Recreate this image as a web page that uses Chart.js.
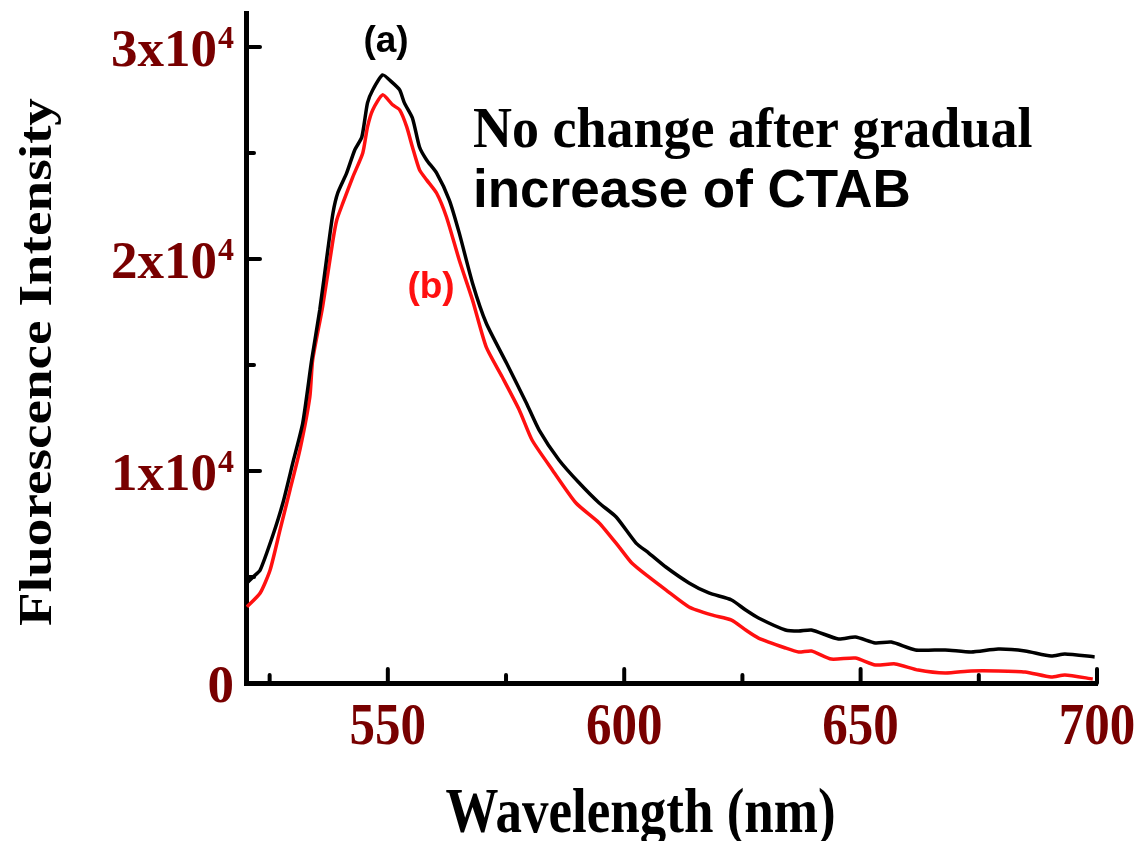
<!DOCTYPE html>
<html>
<head>
<meta charset="utf-8">
<script src="https://cdn.jsdelivr.net/npm/chart.js@4/dist/chart.umd.min.js"></script>
<style>
  html, body { margin: 0; padding: 0; background: #fff; }
  #wrap { width: 1140px; height: 841px; position: relative; }
</style>
</head>
<body>
<div id="wrap"><canvas id="myChart"></canvas></div>
<script>
// curve (a): black, before CTAB
const wavelengthsA = [520.2, 521.5, 523.0, 525.7, 527.8, 529.9, 532.0, 533.9, 535.6, 537.3, 538.4, 539.4,
  541.3, 543.0, 544.5, 545.7, 546.8, 548.9, 550.8, 552.5, 553.5, 555.2, 556.7, 558.2, 560.3, 563.0,
  565.1, 567.9, 570.8, 575.1, 579.3, 582.0, 586.2, 590.5, 594.7, 598.3, 602.5, 605.2, 608.8, 613.7,
  617.9, 622.7, 625.7, 628.4, 634.1, 636.9, 639.6, 645.3, 648.9, 653.1, 656.5, 661.6, 667.9, 673.4,
  679.1, 684.8, 690.3, 693.2, 699.5];
const intensityA = [4720, 5000, 5330, 6980, 8490, 10380, 12260, 15240, 17590, 20420, 22170, 23110,
  24060, 25140, 25750, 27360, 27970, 28680, 28350, 27970, 27360, 26650, 25280, 24670, 24060, 22780,
  21230, 18870, 16980, 15090, 13210, 11930, 10520, 9430, 8490, 7830, 6600, 6130, 5470, 4720,
  4245, 3915, 3440, 3066, 2500, 2450, 2500, 2075, 2170, 1890, 1930, 1560, 1560, 1460,
  1600, 1510, 1270, 1370, 1230];

// curve (b): red, after gradual increase of CTAB
const wavelengthsB = [520.2, 523.0, 525.1, 527.2, 529.3, 531.4, 533.5, 534.1, 536.2, 538.4, 539.2, 540.5,
  542.6, 544.7, 545.7, 546.8, 548.9, 551.0, 552.5, 554.0, 555.2, 556.7, 558.2, 560.3, 562.4, 565.1,
  567.9, 570.8, 574.2, 577.8, 580.5, 584.8, 589.8, 594.7, 598.9, 601.6, 605.2, 608.8, 613.7, 618.5,
  622.7, 625.7, 628.4, 634.1, 636.9, 639.6, 643.8, 648.9, 653.1, 657.3, 662.2, 667.9, 673.4, 679.1,
  684.8, 690.3, 693.2, 699.1];
const intensityB = [3590, 4245, 5330, 7220, 9100, 10990, 13490, 15240, 17740, 20900, 21840, 22640,
  23870, 25000, 26230, 27030, 27740, 27270, 27030, 26230, 25280, 24200, 23730, 23110, 21980, 19950,
  18070, 15850, 14430, 12880, 11460, 10050, 8490, 7550, 6420, 5660, 5000, 4390, 3585, 3210,
  2970, 2500, 2120, 1650, 1460, 1510, 1130, 1180, 850, 900, 610, 470, 570, 570,
  520, 280, 380, 190];

const xMajor = [550, 600, 650, 700];
const xMinor = [525, 575, 625, 675];
const yMajor = [0, 10000, 20000, 30000];
const yMinor = [5000, 15000, 25000];
const yTickLabels = ['0', '1x10', '2x10', '3x10'];
const yTickPowers = ['', '4', '4', '4'];

const labelRed = '#780000';
const serifBold = '"Liberation Serif", "Times New Roman", serif';
const sansBold = '"Liberation Sans", Arial, sans-serif';

function toPoints(xs, ys) {
  return xs.map((x, i) => ({ x: x, y: ys[i] }));
}

function stretchText(ctx, str, x, y, font, color, align, sy) {
  ctx.save();
  ctx.translate(x, y);
  ctx.scale(1, sy);
  ctx.font = font;
  ctx.fillStyle = color;
  ctx.textAlign = align;
  ctx.textBaseline = 'alphabetic';
  ctx.fillText(str, 0, 0);
  ctx.restore();
}

// inward tick marks, tick labels, axis titles and annotations
const decorations = {
  id: 'decorations',
  afterDraw(chart) {
    const ctx = chart.ctx;
    const xs = chart.scales.x;
    const ys = chart.scales.y;
    const area = chart.chartArea;

    ctx.save();
    ctx.strokeStyle = '#000';
    ctx.lineWidth = 4;
    ctx.lineCap = 'round';
    xMajor.concat(xMinor).forEach(v => {
      const len = xMajor.includes(v) ? 14 : 8;
      const px = xs.getPixelForValue(v);
      ctx.beginPath();
      ctx.moveTo(px, area.bottom);
      ctx.lineTo(px, area.bottom - len);
      ctx.stroke();
    });
    yMajor.concat(yMinor).forEach(v => {
      const len = yMajor.includes(v) ? 14 : 8;
      const py = ys.getPixelForValue(v);
      ctx.beginPath();
      ctx.moveTo(area.left, py);
      ctx.lineTo(area.left + len, py);
      ctx.stroke();
    });
    ctx.restore();

    // x tick labels
    xMajor.forEach(v => {
      stretchText(ctx, String(v), xs.getPixelForValue(v), 744, 'bold 51px ' + serifBold, labelRed, 'center', 1.16);
    });

    // y tick labels with superscript power
    const rightEdge = area.left - 12;
    yMajor.forEach((v, i) => {
      const py = ys.getPixelForValue(v);
      ctx.save();
      ctx.font = 'bold 32px ' + serifBold;
      const supW = yTickPowers[i] ? ctx.measureText(yTickPowers[i]).width : 0;
      ctx.restore();
      stretchText(ctx, yTickLabels[i], rightEdge - supW - (supW ? 1 : 0), py + 19, 'bold 53px ' + serifBold, labelRed, 'right', 1);
      if (yTickPowers[i]) {
        stretchText(ctx, yTickPowers[i], rightEdge, py + 1, 'bold 32px ' + serifBold, labelRed, 'right', 1);
      }
    });

    // axis titles
    stretchText(ctx, 'Wavelength (nm)', (area.left + area.right) / 2 - 31, 832, 'bold 53px ' + serifBold, '#000', 'center', 1.2);
    ctx.save();
    ctx.translate(51, 362);
    ctx.rotate(-Math.PI / 2);
    ctx.scale(1.2, 1);
    ctx.font = 'bold 46px ' + serifBold;
    ctx.fillStyle = '#000';
    ctx.textAlign = 'center';
    ctx.textBaseline = 'alphabetic';
    ctx.fillText('Fluorescence Intensity', 0, 0);
    ctx.restore();

    // annotations
    stretchText(ctx, '(a)', 386, 52, 'bold 37px ' + sansBold, '#000', 'center', 1);
    stretchText(ctx, '(b)', 431, 298, 'bold 37px ' + sansBold, '#ff1010', 'center', 1);
    stretchText(ctx, 'No change after gradual', 473, 147, 'bold 54px ' + serifBold, '#000', 'left', 1.05);
    stretchText(ctx, 'increase of CTAB', 473, 207, 'bold 53px ' + sansBold, '#000', 'left', 1);
  }
};

window.addEventListener('load', setupChart);

function setupChart() {
  const ctx = document.getElementById('myChart').getContext('2d');
  new Chart(ctx, {
    type: 'line',
    data: {
      datasets: [{
        label: '(a)',
        data: toPoints(wavelengthsA, intensityA),
        borderColor: '#000000',
        borderWidth: 3.5,
        pointRadius: 0,
        tension: 0.2,
        fill: false
      }, {
        label: '(b)',
        data: toPoints(wavelengthsB, intensityB),
        borderColor: '#ff1010',
        borderWidth: 3.5,
        pointRadius: 0,
        tension: 0.2,
        fill: false
      }]
    },
    options: {
      responsive: true,
      maintainAspectRatio: false,
      animation: false,
      layout: { padding: { left: 246, top: 13, right: 43, bottom: 158 } },
      plugins: { legend: { display: false }, tooltip: { enabled: false } },
      scales: {
        x: {
          type: 'linear',
          min: 520,
          max: 700,
          grid: { display: false, drawTicks: false },
          border: { display: true, color: '#000', width: 5 },
          ticks: { display: false }
        },
        y: {
          min: 0,
          max: 31600,
          grid: { display: false, drawTicks: false },
          border: { display: true, color: '#000', width: 5 },
          ticks: { display: false }
        }
      }
    },
    plugins: [decorations]
  });
}
</script>
</body>
</html>
